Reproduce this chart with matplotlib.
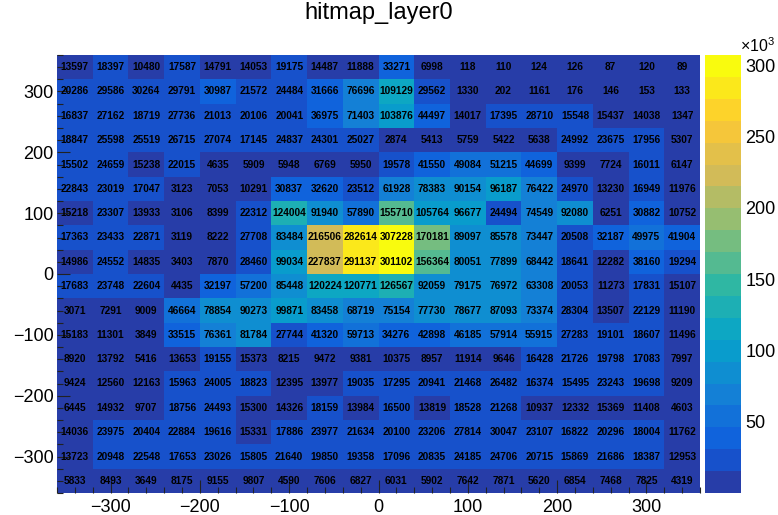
import numpy as np
import matplotlib
matplotlib.use("Agg")
import matplotlib.pyplot as plt
from matplotlib.colors import LinearSegmentedColormap, ListedColormap, BoundaryNorm
from matplotlib.ticker import FixedLocator, MultipleLocator

plt.rcParams["font.family"] = ["Liberation Sans", "DejaVu Sans"]
plt.rcParams["mathtext.fontset"] = "custom"
plt.rcParams["mathtext.rm"] = "Liberation Sans"

# bin edges (40 units wide) along x and y
x_edges = np.arange(-360, 361, 40)
y_edges = np.arange(-360, 361, 40)

# hit counts, one list per row of bins, from the top row (y = 340) down
hits_y340 = [13597, 18397, 10480, 17587, 14791, 14053, 19175, 14487, 11888, 33271, 6998, 118, 110, 124, 126, 87, 120, 89]
hits_y300 = [20286, 29586, 30264, 29791, 30987, 21572, 24484, 31666, 76696, 109129, 29562, 1330, 202, 1161, 176, 146, 153, 133]
hits_y260 = [16837, 27162, 18719, 27736, 21013, 20106, 20041, 36975, 71403, 103876, 44497, 14017, 17395, 28710, 15548, 15437, 14038, 1347]
hits_y220 = [18847, 25598, 25519, 26715, 27074, 17145, 24837, 24301, 25027, 2874, 5413, 5759, 5422, 5638, 24992, 23675, 17956, 5307]
hits_y180 = [15502, 24659, 15238, 22015, 4635, 5909, 5948, 6769, 5950, 19578, 41550, 49084, 51215, 44699, 9399, 7724, 16011, 6147]
hits_y140 = [22843, 23019, 17047, 3123, 7053, 10291, 30837, 32620, 23512, 61928, 78383, 90154, 96187, 76422, 24970, 13230, 16949, 11976]
hits_y100 = [15218, 23307, 13933, 3106, 8399, 22312, 124004, 91940, 57890, 155710, 105764, 96677, 24494, 74549, 92080, 6251, 30882, 10752]
hits_y60 = [17363, 23433, 22871, 3119, 8222, 27708, 83484, 216506, 282614, 307228, 170181, 89097, 85578, 73447, 20508, 32187, 49975, 41904]
hits_y20 = [14986, 24552, 14835, 3403, 7870, 28460, 99034, 227837, 291137, 301102, 156364, 80051, 77899, 68442, 18641, 12282, 38160, 19294]
hits_ym20 = [17683, 23748, 22604, 4435, 32197, 57200, 85448, 120224, 120771, 126567, 92059, 79175, 76972, 63308, 20053, 11273, 17831, 15107]
hits_ym60 = [3071, 7291, 9009, 46664, 78854, 90273, 99871, 83458, 68719, 75154, 77730, 78677, 87093, 73374, 28304, 13507, 22129, 11190]
hits_ym100 = [15183, 11301, 3849, 33515, 76361, 81784, 27744, 41320, 59713, 34276, 42898, 46185, 57914, 55915, 27283, 19101, 18607, 11496]
hits_ym140 = [8920, 13792, 5416, 13653, 19155, 15373, 8215, 9472, 9381, 10375, 8957, 11914, 9646, 16428, 21726, 19798, 17083, 7997]
hits_ym180 = [9424, 12560, 12163, 15963, 24005, 18823, 12395, 13977, 19035, 17295, 20941, 21468, 26482, 16374, 15495, 23243, 19698, 9209]
hits_ym220 = [6445, 14932, 9707, 18756, 24493, 15300, 14326, 18159, 13984, 16500, 13819, 18528, 21268, 10937, 12332, 15369, 11408, 4603]
hits_ym260 = [14036, 23975, 20404, 22884, 19616, 15331, 17886, 23977, 21634, 20100, 23206, 27814, 30047, 23107, 16822, 20296, 18004, 11762]
hits_ym300 = [13723, 20948, 22548, 17653, 23026, 15805, 21640, 19850, 19358, 17096, 20835, 24185, 24706, 20715, 15869, 21686, 18387, 12953]
hits_ym340 = [5833, 8493, 3649, 8175, 9155, 9807, 4590, 7606, 6827, 6031, 5902, 7642, 7871, 5620, 6854, 7468, 7825, 4319]

rows_top_down = [hits_y340, hits_y300, hits_y260, hits_y220, hits_y180, hits_y140,
                 hits_y100, hits_y60, hits_y20, hits_ym20, hits_ym60, hits_ym100,
                 hits_ym140, hits_ym180, hits_ym220, hits_ym260, hits_ym300, hits_ym340]
counts = np.array(rows_top_down[::-1], dtype=float)  # row 0 = lowest y

# ROOT "bird" palette, 255 colours, sampled into 20 contour bands
bird_stops = [0.0, 0.125, 0.25, 0.375, 0.5, 0.625, 0.75, 0.875, 1.0]
bird_r = [0.2082, 0.0592, 0.0780, 0.0232, 0.1802, 0.5301, 0.8186, 0.9956, 0.9764]
bird_g = [0.1664, 0.3599, 0.5041, 0.6419, 0.7178, 0.7492, 0.7328, 0.7862, 0.9832]
bird_b = [0.5293, 0.8684, 0.8385, 0.7914, 0.6425, 0.4662, 0.3499, 0.1968, 0.0539]
bird = LinearSegmentedColormap.from_list("bird", list(zip(bird_stops, zip(bird_r, bird_g, bird_b))))
palette = bird(np.linspace(0, 1, 255))
n_cont = 20
bands = [palette[min(int((i + 0.99) * 255 / n_cont), 254)] for i in range(n_cont)]
cmap = ListedColormap(bands)
levels = np.linspace(counts.min(), counts.max(), n_cont + 1)
norm = BoundaryNorm(levels, cmap.N, clip=True)

fig = plt.figure(figsize=(7.78, 5.15), dpi=100)
ax = fig.add_axes([57 / 778, 22 / 515, 643 / 778, 438 / 515])
cax = fig.add_axes([705 / 778, 22 / 515, 36 / 778, 438 / 515])

mesh = ax.pcolormesh(x_edges, y_edges, counts, cmap=cmap, norm=norm,
                     shading="flat", antialiased=False, linewidth=0)

xc = 0.5 * (x_edges[:-1] + x_edges[1:])
yc = 0.5 * (y_edges[:-1] + y_edges[1:])
for j, y in enumerate(yc):
    for i, x in enumerate(xc):
        ax.text(x, y, f"{int(counts[j, i])}", ha="center", va="center",
                fontsize=7.3, fontweight="bold", color="black")

ax.set_xlim(-360, 360)
ax.set_ylim(-360, 360)
ax.xaxis.set_major_locator(MultipleLocator(100))
ax.xaxis.set_minor_locator(MultipleLocator(20))
ax.yaxis.set_major_locator(MultipleLocator(100))
ax.yaxis.set_minor_locator(MultipleLocator(20))
ax.tick_params(which="both", direction="in", labelsize=13, width=0.8, color="#222222")
ax.tick_params(which="major", length=9.5)
ax.tick_params(which="minor", length=4.5)
ax.tick_params(axis="x", pad=4.5)
ax.tick_params(axis="y", pad=2.5)
for s in ax.spines.values():
    s.set_visible(False)

ax.set_title("hitmap_layer0", fontsize=17, pad=26)

cbar = fig.colorbar(mesh, cax=cax)
cbar.outline.set_visible(False)
cbar.set_ticks([50e3, 100e3, 150e3, 200e3, 250e3, 300e3],
               labels=["50", "100", "150", "200", "250", "300"])
cbar.minorlocator = FixedLocator([100e3, 200e3, 300e3])
cax.tick_params(which="major", length=0, pad=3, labelsize=13)
cax.tick_params(which="minor", direction="in", length=13, width=0.9, color="#222222")
fig.text(740 / 778, 1 - 52 / 515, r"$\times$10$^{3}$", fontsize=11.5, ha="left", va="baseline")

fig.savefig("out.png", dpi=100)
